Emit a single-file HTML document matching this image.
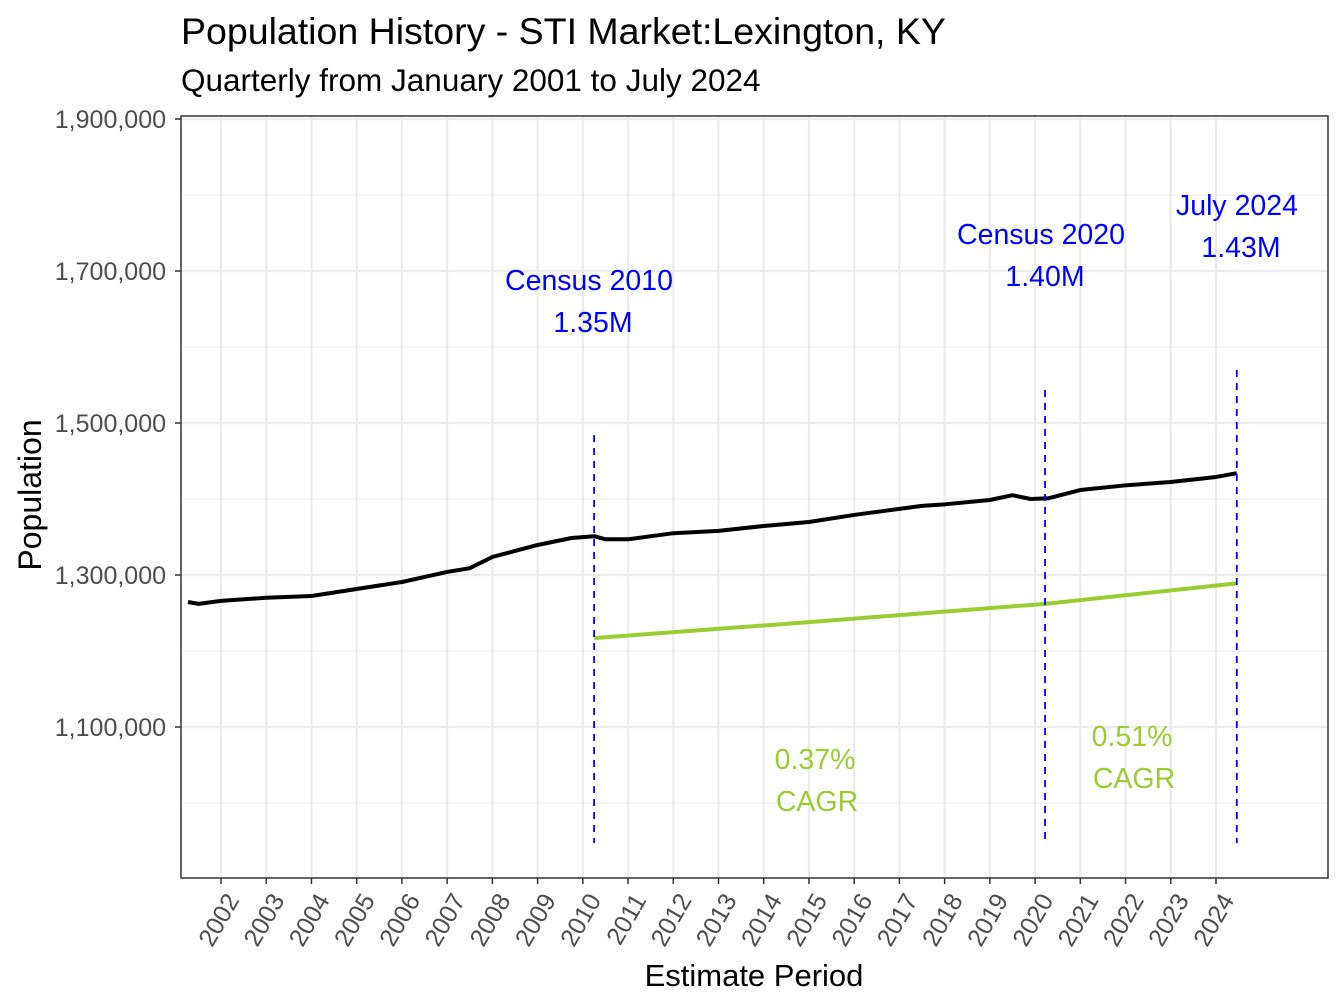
<!DOCTYPE html>
<html><head><meta charset="utf-8"><style>
html,body{margin:0;padding:0;background:#fff;}
svg{display:block;font-family:"Liberation Sans",Arial,sans-serif;}
</style></head><body>
<svg id="chart" width="1344" height="1008" viewBox="0 0 1344 1008">
<text x="181" y="44" font-size="37.5" fill="#000">Population History - STI Market:Lexington, KY</text>
<text x="181" y="91" font-size="31.5" fill="#000">Quarterly from January 2001 to July 2024</text>
<g id="grid"></g>
<g id="yaxis"></g>
<g id="xaxis"></g>
<g id="marks"></g>
<g id="annos"></g>
<rect x="181" y="116" width="1147" height="762" fill="none" stroke="#333" stroke-width="1.5"/>
<text x="754" y="986" font-size="31" text-anchor="middle" fill="#000">Estimate Period</text>
<text transform="translate(41,495) rotate(-90)" font-size="32" text-anchor="middle" fill="#000">Population</text>
</svg>
<script>
const popDates=[2001.27,2001.5,2002,2003,2004,2005,2006,2007,2007.5,2008,2009,2009.75,2010.25,2010.5,2011,2012,2013,2014,2015,2016,2017,2017.5,2018,2019,2019.5,2019.9,2020.3,2021,2022,2023,2024,2024.46];
const popValues=[1264500,1262000,1266000,1270000,1272400,1281600,1290800,1304000,1309000,1323700,1339500,1348700,1351000,1347000,1347000,1355000,1358000,1364500,1369700,1379000,1387000,1391000,1393000,1398700,1405000,1400000,1401000,1411800,1418000,1422400,1429000,1434000];
const cagrDates=[2010.25,2015,2020.22,2024.46];
const cagrValues=[1217000,1238000,1262000,1289000];
const yTicks=[1100000,1300000,1500000,1700000,1900000];
const yMinor=[1000000,1200000,1400000,1600000,1800000];
const xTicks=[2002,2003,2004,2005,2006,2007,2008,2009,2010,2011,2012,2013,2014,2015,2016,2017,2018,2019,2020,2021,2022,2023,2024];
const refDates=[2010.25,2020.22,2024.46];
const refLabels=[["Census 2010","1.35M"],["Census 2020","1.40M"],["July 2024","1.43M"]];
const cagrLabels=[["0.37%"," CAGR"],["0.51%"," CAGR"]];

const NS="http://www.w3.org/2000/svg";
const X=d=>221+(d-2002)*45.227;
const Y=v=>119+(1900000-v)/200000*152;
function mk(tag,attrs,parent,text){const e=document.createElementNS(NS,tag);for(const k in attrs)e.setAttribute(k,attrs[k]);if(text!==undefined)e.textContent=text;parent.appendChild(e);return e;}
const grid=document.getElementById('grid'),ya=document.getElementById('yaxis'),xa=document.getElementById('xaxis'),marks=document.getElementById('marks'),annos=document.getElementById('annos');
yMinor.forEach(v=>{const l=mk('line',{x1:181,x2:1328,y1:Y(v),y2:Y(v),stroke:'#f0f0f0','stroke-width':1.2},grid);

});
xTicks.forEach(d=>{const l=mk('line',{x1:X(d),x2:X(d),y1:116,y2:878,stroke:'#ebebeb','stroke-width':2.2},grid);

});
yTicks.forEach(v=>{const l=mk('line',{x1:181,x2:1328,y1:Y(v),y2:Y(v),stroke:'#ebebeb','stroke-width':2.2},grid);


const t=mk('line',{x1:175,x2:181,y1:Y(v),y2:Y(v),stroke:'#333','stroke-width':1.5},ya);


const tx=mk('text',{x:166,y:Y(v)+9,'font-size':25,'text-anchor':'end',fill:'#4d4d4d'},ya,v.toLocaleString('en-US'));

});
xTicks.forEach(d=>{const t=mk('line',{x1:X(d),x2:X(d),y1:878,y2:884,stroke:'#333','stroke-width':1.5},xa);


const tx=mk('text',{transform:`translate(${X(d)+19},900) rotate(-60)`,'font-size':25,'text-anchor':'end',fill:'#4d4d4d'},xa,String(d));

});
const cg=mk('polyline',{points:cagrDates.map((d,i)=>X(d)+','+Y(cagrValues[i])).join(' '),fill:'none',stroke:'#9acd32','stroke-width':4},marks);


const pl=mk('polyline',{points:popDates.map((d,i)=>X(d)+','+Y(popValues[i])).join(' '),fill:'none',stroke:'#000','stroke-width':4,'stroke-linejoin':'round'},marks);


const refTop=[435,390,370];
refDates.forEach((d,i)=>{const l=mk('line',{x1:X(d),x2:X(d),y1:refTop[i],y2:843,stroke:'#0000ff','stroke-width':1.8,'stroke-dasharray':'7,6'},annos);

});
const refPos=[[589,290],[1041,244],[1237,215]];
refLabels.forEach((lb,i)=>{const t1=mk('text',{x:refPos[i][0],y:refPos[i][1],'font-size':28.5,'text-anchor':'middle',fill:'#0000ff'},annos,lb[0]);


const t2=mk('text',{x:refPos[i][0]+4,y:refPos[i][1]+42,'font-size':28.5,'text-anchor':'middle',fill:'#0000ff'},annos,lb[1]);

});
const cPos=[[815,769],[1132,746]];
cagrLabels.forEach((lb,i)=>{const t1=mk('text',{x:cPos[i][0],y:cPos[i][1],'font-size':28.5,'text-anchor':'middle',fill:'#9acd32'},annos,lb[0]);


const t2=mk('text',{x:cPos[i][0]+2,y:cPos[i][1]+42,'font-size':28.5,'text-anchor':'middle',fill:'#9acd32'},annos,lb[1]);

});
</script>
</body></html>
